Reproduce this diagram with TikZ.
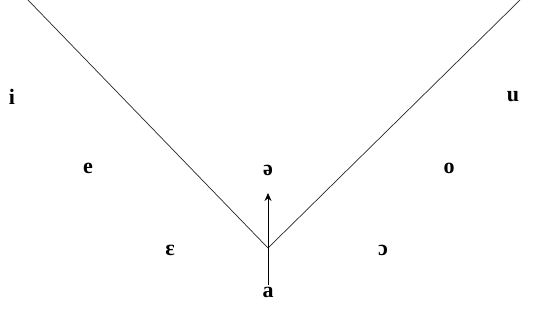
\documentclass[tikz,border=0pt]{standalone}
\usepackage{fontspec}
\setmainfont{Liberation Serif}
\usetikzlibrary{arrows.meta}
\begin{document}
\begin{tikzpicture}[x=1pt, y=1pt, vowel/.style={font=\fontsize{22}{22}\selectfont\bfseries, inner sep=0pt}]
      \useasboundingbox (0,0) rectangle (533,-321);

      \coordinate (topleft) at (28,0);
      \coordinate (topright) at (520,0);
      \coordinate (vertex) at (268,-248);
      \coordinate (low) at (268,-285);
      \coordinate (tip) at (268,-193);
      \draw[line width=0.7pt, color=black!85] (topleft) -- (vertex) -- (topright);

      \node[vowel] (i) at (12,-97) {i};
      \node[vowel] (u) at (513,-97) {u};
      \node[vowel] (e) at (88,-168) {e};
      \node[vowel] (schwa) at (268,-170) {ə};
      \node[vowel] (o) at (449,-168) {o};
      \node[vowel] (epsilon) at (170,-250) {ɛ};
      \node[vowel] (openo) at (383,-250) {ɔ};
      \node[vowel] (a) at (268,-292) {a};

      \draw[line width=1pt, -{Stealth[length=8pt, width=7pt]}] (low) -- (tip);
    \end{tikzpicture}
\end{document}
